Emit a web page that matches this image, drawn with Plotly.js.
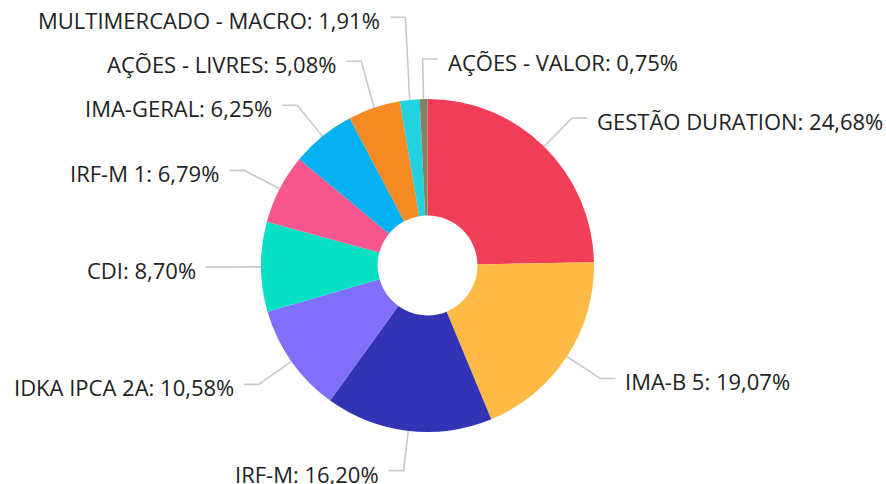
<!DOCTYPE html>
<html>
<head>
<meta charset="utf-8">
<script src="https://cdn.plot.ly/plotly-3.0.1.min.js"></script>
<style>html,body{margin:0;padding:0;background:#fff;}#chart{width:886px;height:484px;}</style>
</head>
<body>
<div id="chart"></div>
<script>
const labels = ["GESTÃO DURATION","IMA-B 5","IRF-M","IDKA IPCA 2A","CDI","IRF-M 1","IMA-GERAL","AÇÕES - LIVRES","MULTIMERCADO - MACRO","AÇÕES - VALOR"];
const values = [24.68,19.07,16.20,10.58,8.70,6.79,6.25,5.08,1.91,0.75];
const colors = ["#EF3E55","#FFBA45","#3333B5","#806FFA","#07E0C4","#F7568E","#03B1F0","#F68B23","#22D2E0","#858260"];

// layout geometry (pixels)
const W = 886, H = 484;
const cx = 427.5, cy = 265.5, R = 166.5;
const L1 = 40, L2 = 15, TEXTGAP = 8, LABEL_GAP = 44, FONT = 22, TEXT_DY = 3;

function fmt(v){ return v.toFixed(2).replace(".", ",") + "%"; }

// compute label anchors from the data
const total = values.reduce((a,b)=>a+b,0);
let cum = 0;
const items = values.map((v,i)=>{
  const t = 2*Math.PI*(cum + v/2)/total;
  cum += v;
  const s = Math.sin(t), c = Math.cos(t);
  return {
    i, t,
    sx: cx + R*s, sy: cy - R*c,
    ex: cx + (R+L1)*s, ey: cy - (R+L1)*c,
    right: s > -0.05
  };
});

// resolve overlaps per side: upper half pushed up, lower half pushed down
[true,false].forEach(side=>{
  const list = items.filter(d=>d.right===side);
  const upper = list.filter(d=>d.ey < cy).sort((a,b)=>b.ey-a.ey);
  const lower = list.filter(d=>d.ey >= cy).sort((a,b)=>a.ey-b.ey);
  for(let k=1;k<upper.length;k++){
    if(upper[k].ey > upper[k-1].ey - LABEL_GAP) upper[k].ey = upper[k-1].ey - LABEL_GAP;
  }
  for(let k=1;k<lower.length;k++){
    if(lower[k].ey < lower[k-1].ey + LABEL_GAP) lower[k].ey = lower[k-1].ey + LABEL_GAP;
  }
});

const px = x => x/W, py = y => 1 - y/H;
const shapes = [], annotations = [];
items.forEach(d=>{
  const dir = d.right ? 1 : -1;
  const hx = d.ex + dir*L2;
  shapes.push({
    type: "path", xref: "paper", yref: "paper",
    path: `M ${px(d.sx)} ${py(d.sy)} L ${px(d.ex)} ${py(d.ey)} L ${px(hx)} ${py(d.ey)}`,
    line: {color: "#c9c9c9", width: 1.6}
  });
  annotations.push({
    xref: "paper", yref: "paper",
    x: px(hx + dir*TEXTGAP), y: py(d.ey + TEXT_DY),
    xanchor: d.right ? "left" : "right", yanchor: "middle",
    showarrow: false,
    text: labels[d.i] + ": " + fmt(values[d.i]),
    font: {family: "Open Sans, sans-serif", size: FONT, color: "#222"}
  });
});

const trace = {
  type: "pie",
  labels: labels,
  values: values,
  hole: 0.30,
  sort: false,
  direction: "clockwise",
  rotation: 0,
  marker: {colors: colors, line: {width: 0}},
  textinfo: "none",
  hoverinfo: "label+percent",
  showlegend: false,
  domain: {x: [(cx-R)/W, (cx+R)/W], y: [1-(cy+R)/H, 1-(cy-R)/H]}
};
const layout = {
  width: W, height: H,
  margin: {l: 0, r: 0, t: 0, b: 0},
  paper_bgcolor: "#fff",
  showlegend: false,
  shapes: shapes,
  annotations: annotations
};
Plotly.newPlot("chart", [trace], layout, {displayModeBar: false, staticPlot: true});
</script>
</body>
</html>
